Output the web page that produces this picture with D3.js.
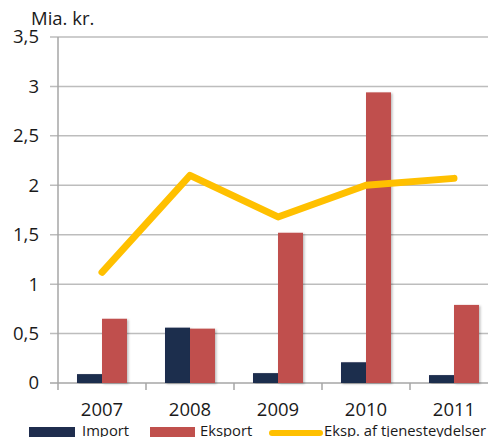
<!DOCTYPE html>
<html>
<head>
    <meta charset='utf-8'>
    <title>Import og eksport</title>
    <style>
        body { margin: 0; background: #fff; }
        svg { display: block; overflow: hidden; }
    </style>
</head>
<body>
<svg width="488" height="437"></svg>
<script src="https://d3js.org/d3.v7.min.js"></script>
<script>
    const years = ["2007", "2008", "2009", "2010", "2011"]
    const importValues = [0.09, 0.56, 0.10, 0.21, 0.08]
    const eksportValues = [0.65, 0.55, 1.52, 2.94, 0.79]
    const tjenesterValues = [1.12, 2.10, 1.68, 2.00, 2.07]
    const yTicks = [0, 0.5, 1, 1.5, 2, 2.5, 3, 3.5]
    const seriesNames = ["Import", "Eksport", "Eksp. af tjenesteydelser"]

    const font = "'Open Sans', sans-serif"
    const colors = {Import: "#1f2d4e", Eksport: "#c0504d", line: "#ffc000"}
    const margin = {top: 37, left: 58, bottom: 383, right: 498}

    const svg = d3.select("svg")

    const defs = svg.append("defs")
    const shadow = defs.append("filter").attr("id", "shadow")
        .attr("x", "-20%").attr("y", "-5%").attr("width", "150%").attr("height", "115%")
    shadow.append("feDropShadow")
        .attr("dx", 1.5).attr("dy", 1).attr("stdDeviation", 1)
        .attr("flood-color", "#000").attr("flood-opacity", 0.25)

    const x0 = d3.scaleBand()
        .domain(years)
        .range([margin.left, margin.right])
        .padding(0)

    const gap = x0.bandwidth() * 0.216
    const x1 = d3.scaleBand()
        .domain(["Import", "Eksport"])
        .range([gap, x0.bandwidth() - gap])
        .padding(0)

    const y = d3.scaleLinear()
        .domain([0, 3.5])
        .range([margin.bottom, margin.top])

    const fmt = d => String(d).replace(".", ",")

    // gridlines + tick marks
    svg.append("g")
        .selectAll("line")
        .data(yTicks)
        .join("line")
        .attr("x1", margin.left - 8)
        .attr("x2", 488)
        .attr("y1", d => y(d))
        .attr("y2", d => y(d))
        .attr("stroke", d => d === 0 ? "#a6a6a6" : "#bdbdbd")
        .attr("stroke-width", 1.5)

    svg.append("g")
        .attr("font-family", font)
        .attr("font-size", 18.5)
        .attr("fill", "#1a1a1a")
        .attr("text-anchor", "end")
        .selectAll("text")
        .data(yTicks)
        .join("text")
        .attr("x", 39)
        .attr("y", d => y(d))
        .attr("dy", "0.35em")
        .text(fmt)

    // vertical axis
    svg.append("line")
        .attr("x1", margin.left).attr("x2", margin.left)
        .attr("y1", margin.top).attr("y2", margin.bottom)
        .attr("stroke", "#a6a6a6").attr("stroke-width", 1.5)

    // category tick marks
    svg.append("g")
        .selectAll("line")
        .data(years.concat(["end"]))
        .join("line")
        .attr("x1", (d, i) => margin.left + i * x0.bandwidth())
        .attr("x2", (d, i) => margin.left + i * x0.bandwidth())
        .attr("y1", margin.bottom)
        .attr("y2", margin.bottom + 7)
        .attr("stroke", "#a6a6a6").attr("stroke-width", 1.5)

    const rows = years.map((year, i) => ({year, Import: importValues[i], Eksport: eksportValues[i]}))

    svg.append("g")
        .selectAll("g")
        .data(rows)
        .join("g")
        .attr("transform", d => `translate(${x0(d.year)},0)`)
        .selectAll("rect")
        .data(d => ["Import", "Eksport"].map(key => ({key, value: d[key]})))
        .join("rect")
        .attr("x", d => x1(d.key))
        .attr("width", x1.bandwidth())
        .attr("y", d => y(d.value))
        .attr("height", d => y(0) - y(d.value))
        .attr("fill", d => colors[d.key])
        .attr("filter", "url(#shadow)")

    const line = d3.line()
        .x((d, i) => x0(years[i]) + x0.bandwidth() / 2)
        .y(d => y(d))

    svg.append("path")
        .datum(tjenesterValues)
        .attr("d", line)
        .attr("fill", "none")
        .attr("stroke", colors.line)
        .attr("stroke-width", 7)
        .attr("stroke-linecap", "round")
        .attr("stroke-linejoin", "round")

    // year labels
    svg.append("g")
        .attr("font-family", font)
        .attr("font-size", 18.5)
        .attr("fill", "#1a1a1a")
        .attr("text-anchor", "middle")
        .selectAll("text")
        .data(years)
        .join("text")
        .attr("x", d => x0(d) + x0.bandwidth() / 2)
        .attr("y", 416)
        .text(d => d)

    svg.append("text")
        .attr("x", 31)
        .attr("y", 25)
        .attr("font-family", font)
        .attr("font-size", 18.5)
        .attr("fill", "#1a1a1a")
        .text("Mia. kr.")

    // legend
    const legendX = [29, 150, 270]
    const legend = svg.append("g")
        .attr("font-family", font)
        .attr("font-size", 14.8)
        .attr("fill", "#1a1a1a")

    legend.append("rect").attr("x", legendX[0]).attr("y", 427).attr("width", 46).attr("height", 10).attr("fill", colors.Import)
    legend.append("rect").attr("x", legendX[1]).attr("y", 427).attr("width", 45).attr("height", 10).attr("fill", colors.Eksport)
    legend.append("line").attr("x1", legendX[2] + 2).attr("x2", legendX[2] + 50)
        .attr("y1", 433).attr("y2", 433)
        .attr("stroke", colors.line).attr("stroke-width", 6).attr("stroke-linecap", "round")

    legend.append("text").attr("x", 82).attr("y", 436).text(seriesNames[0])
    legend.append("text").attr("x", 200).attr("y", 436).text(seriesNames[1])
    legend.append("text").attr("x", 324).attr("y", 436).text(seriesNames[2])
</script>
</body>
</html>
